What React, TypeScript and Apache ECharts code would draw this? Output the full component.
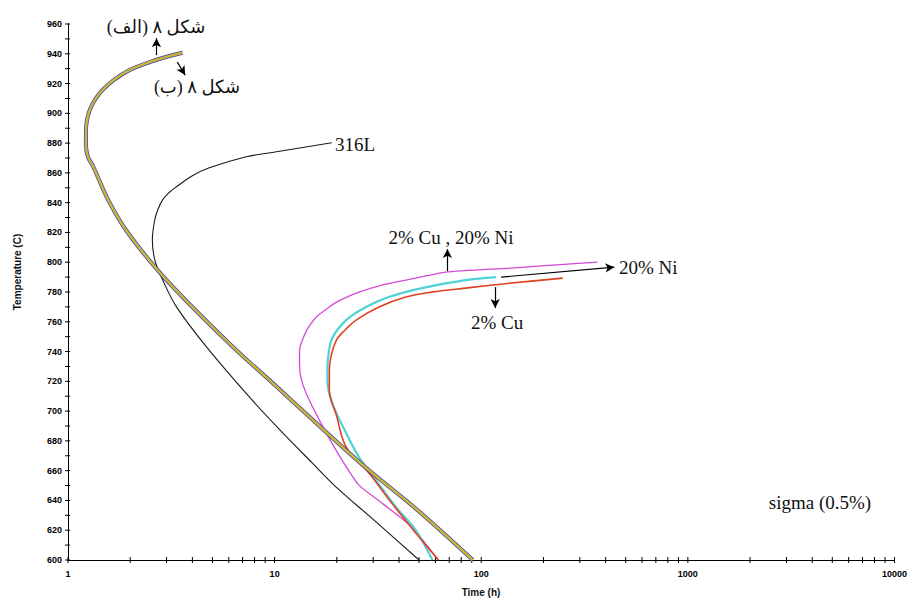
import React, { useEffect, useRef } from "react";
import * as echarts from "echarts";

// ---- data: [time (h), temperature (C)] ----
const fig8Curve: number[][] = [
  [3.58, 940.7], [2.69, 936], [1.92, 928], [1.475, 915.9], [1.276, 902.4],
  [1.221, 887], [1.221, 878.9], [1.249, 870.8], [1.324, 864.3], [1.564, 841.9],
  [1.953, 819.6], [2.99, 788.2], [6.26, 743.3], [9.41, 721],
  [15.7, 692.7], [26.7, 663.8], [49.7, 632.9], [91, 600],
];
const curve316L: number[][] = [
  [18.9, 880.2], [10.2, 874.2], [7.29, 870.8], [4.83, 863.4], [4.0, 858.1],
  [3.35, 850.7], [3.1, 847], [2.87, 841.9], [2.72, 835.2], [2.63, 828.5],
  [2.56, 815.1], [2.63, 801.6], [2.87, 788.2],
  [3.35, 770], [4.68, 743.1], [7.54, 709.5], [10.6, 687.4], [15.2, 665.2],
  [19.8, 649.1], [30.2, 626.9], [50, 600],
];
const curveCuNi: number[][] = [
  [365, 800.1], [139.4, 796.1], [67.1, 793.4], [48.2, 789.3], [34.5, 785.3],
  [25.6, 779.9], [19.9, 773.2], [18.4, 769.9], [15.9, 763.2], [14.3, 754.4],
  [13.2, 741], [13.2, 730.9], [13.5, 720.8], [14.7, 707.4], [17.8, 685.2],
  [21.2, 667.1], [25.6, 650.3], [33.1, 638.2], [46.1, 622.1], [62, 600],
];
const curveNi: number[][] = [
  [118, 790], [83.8, 788], [51.5, 782.6], [35.7, 776.6], [27.7, 769.9],
  [22.2, 761.1], [19.0, 749], [18.2, 737.6], [18.0, 727.6], [18.0, 720.8],
  [19.0, 705.4], [22.2, 685.2], [25.6, 669.1], [30.9, 653.7], [38.6, 635.6],
  [48.2, 620.1], [58, 600],
];
const curveCu: number[][] = [
  [248, 789.3], [139.4, 786], [83.8, 782.6], [57.5, 779.9], [43.1, 776.6],
  [32.0, 769.9], [24.8, 761.1], [21.2, 752.4], [19.9, 747.7], [18.8, 737.6],
  [18.4, 727.6], [18.4, 714.1], [19.9, 697.3], [22.2, 675.8], [28.6, 658.4],
  [36.9, 638.2], [48.2, 618.1], [62, 600],
];

// ---- axis ticks ----
const xDecades = [1, 10, 100, 1000];
const xMultipliers = [1, 2, 3, 4, 5, 6, 7, 8, 9];
const xMax = 10000;
const yMin = 600;
const yMax = 960;
const yMinorStep = 10;

// ---- annotation arrows [from, to] in data coords ----
const arrows: number[][][] = [
  [[2.68, 939.1], [2.68, 950.5]],
  [[3.38, 934.4], [3.69, 925.7]],
  [[68.6, 794], [68.6, 808.8]],
  [[124.8, 790], [440.6, 796.7]],
  [[116.8, 783.3], [116.8, 769.2]],
];

export default function App() {
  const ref = useRef<HTMLDivElement>(null);
  useEffect(() => {
    if (!ref.current) return;
    const chart = echarts.init(ref.current, null, { renderer: "svg" });

    const xTicks: number[][] = [];
    xDecades.forEach((d) => xMultipliers.forEach((m) => xTicks.push([d * m, yMin])));
    xTicks.push([xMax, yMin]);
    const yTicks: number[][] = [];
    for (let v = yMin; v <= yMax; v += yMinorStep) yTicks.push([1, v]);

    const serif = "'Liberation Serif', 'Times New Roman', 'DejaVu Sans', serif";
    const sans = "'Liberation Sans', Arial, sans-serif";

    const line = (name: string, data: number[][], color: string, width: number, extra: any = {}) => ({
      type: "line",
      name,
      data,
      showSymbol: false,
      symbol: "none",
      smooth: 0.35,
      lineStyle: { color, width },
      silent: true,
      ...extra,
    });

    const option: any = {
      animation: false,
      backgroundColor: "#ffffff",
      grid: { left: 68, right: 12, top: 24, bottom: 39, containLabel: false },
      xAxis: {
        type: "log",
        logBase: 10,
        min: 1,
        max: xMax,
        axisLine: { lineStyle: { color: "#000", width: 1 } },
        axisTick: { show: false },
        splitLine: { show: false },
        axisLabel: {
          color: "#000",
          fontSize: 9,
          fontWeight: "bold",
          fontFamily: sans,
          margin: 9,
          formatter: (v: number) => String(v),
        },
      },
      yAxis: {
        type: "value",
        min: yMin,
        max: yMax,
        interval: 20,
        axisLine: { show: true, lineStyle: { color: "#000", width: 1 } },
        axisTick: { show: false },
        splitLine: { show: false },
        axisLabel: {
          color: "#000",
          fontSize: 9,
          fontWeight: "bold",
          fontFamily: sans,
          margin: 6,
        },
      },
      graphic: [
        { type: "text", x: 17, y: 272, rotation: Math.PI / 2, style: { text: "Temperature (C)", font: `bold 10px ${sans}`, fill: "#111", align: "center", verticalAlign: "middle" } },
        { type: "text", x: 481, y: 592, style: { text: "Time (h)", font: `bold 10px ${sans}`, fill: "#111", align: "center", verticalAlign: "middle" } },
        { type: "text", x: 156, y: 27, style: { text: "شکل ۸ (الف)\u200F", font: `18px ${serif}`, fill: "#111", align: "center", verticalAlign: "middle" } },
        { type: "text", x: 197, y: 87, style: { text: "شکل ۸ (ب)\u200F", font: `18px ${serif}`, fill: "#111", align: "center", verticalAlign: "middle" } },
        { type: "text", x: 335, y: 144, style: { text: "316L", font: `19px ${serif}`, fill: "#111", align: "left", verticalAlign: "middle" } },
        { type: "text", x: 451, y: 237, style: { text: "2% Cu , 20% Ni", font: `19px ${serif}`, fill: "#111", align: "center", verticalAlign: "middle" } },
        { type: "text", x: 619, y: 267, style: { text: "20% Ni", font: `19px ${serif}`, fill: "#111", align: "left", verticalAlign: "middle" } },
        { type: "text", x: 497, y: 322, style: { text: "2% Cu", font: `19px ${serif}`, fill: "#111", align: "center", verticalAlign: "middle" } },
        { type: "text", x: 820, y: 502, style: { text: "sigma (0.5%)", font: `19px ${serif}`, fill: "#111", align: "center", verticalAlign: "middle" } },
      ],
      series: [
        line("316L", curve316L, "#1a1a1a", 1.1, {
          markLine: {
            silent: true,
            symbol: ["none", "arrow"],
            symbolSize: [7, 9],
            label: { show: false },
            lineStyle: { color: "#000", width: 1.2, type: "solid" },
            data: arrows.map(([a, b]) => [{ coord: a }, { coord: b }]),
          },
        }),
        line("2% Cu , 20% Ni", curveCuNi, "#d24ad6", 1.3, { smooth: 0.2 }),
        line("20% Ni", curveNi, "#4fd3d6", 2.2),
        line("2% Cu", curveCu, "#e0401e", 1.6),
        line("fig8 blue", fig8Curve, "#3b3fa8", 4),
        line("fig8", fig8Curve, "#c9b43c", 2.6),
        {
          type: "custom",
          silent: true,
          clip: false,
          data: xTicks,
          renderItem: (params: any, api: any) => {
            const p = api.coord([api.value(0), api.value(1)]);
            return { type: "line", shape: { x1: p[0], y1: p[1] - 3, x2: p[0], y2: p[1] + 3 }, style: { stroke: "#000", lineWidth: 1 } };
          },
        },
        {
          type: "custom",
          silent: true,
          clip: false,
          data: yTicks,
          renderItem: (params: any, api: any) => {
            const p = api.coord([api.value(0), api.value(1)]);
            return { type: "line", shape: { x1: p[0] - 3, y1: p[1], x2: p[0] + 2, y2: p[1] }, style: { stroke: "#000", lineWidth: 1 } };
          },
        },
      ],
    };
    chart.setOption(option);
    return () => chart.dispose();
  }, []);
  return (
    <div
      ref={ref}
      style={{ position: "fixed", left: 0, top: 0, width: 910, height: 599, background: "#fff" }}
    />
  );
}
